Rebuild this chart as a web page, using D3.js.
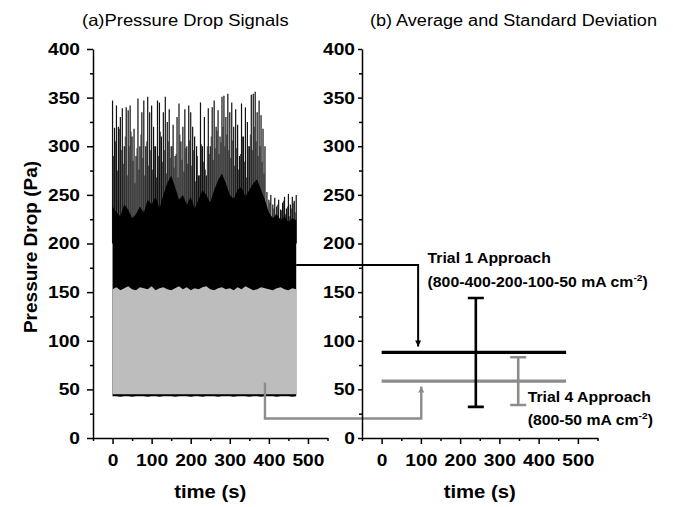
<!DOCTYPE html>
<html>
<head>
<meta charset="utf-8">
<script src="https://cdn.jsdelivr.net/npm/d3@7"></script>
<style>
  body { margin: 0; background: #fff; }
  text { font-family: "Liberation Sans", Arial, sans-serif; }
</style>
</head>
<body>
<svg id="chart" width="673" height="507"></svg>
<script>
// ---- data ----
// sample times (s) for the pressure drop traces
const peakTimes = d3.range(0, 471, 5);
const midTimes = d3.range(2.5, 470, 5);
const bandTimes = d3.range(0, 471, 10);

// Trial 1: spike tops (Pa), every 5 s
const trial1Peak = [
    347, 319, 342, 320, 330, 339, 300, 340, 337, 342,
    310, 318, 290, 349, 300, 335, 347, 300, 351, 335,
    342, 320, 300, 347, 345, 310, 335, 351, 325, 338,
    300, 322, 290, 330, 344, 305, 320, 338, 300, 342,
    335, 320, 310, 300, 270, 345, 300, 330, 270, 339,
    300, 340, 347, 320, 337, 310, 351, 352, 330, 354,
    335, 345, 320, 338, 322, 290, 344, 310, 340, 325,
    300, 353, 354, 356, 335, 347, 332, 318, 300, 253,
    245, 250, 240, 247, 238, 245, 235, 242, 248, 236,
    251, 240, 248, 244, 250
];
// Trial 1: smaller spikes in between
const trial1Mid = [
    290, 305, 275, 318, 296, 282, 310, 270, 300, 315,
    285, 262, 298, 276, 312, 288, 270, 305, 280, 296,
    276, 300, 268, 290, 315, 284, 296, 272, 305, 288,
    300, 278, 292, 268, 312, 286, 274, 298, 282, 306,
    280, 296, 264, 290, 270, 302, 284, 276, 300, 292,
    310, 286, 298, 316, 292, 304, 320, 300, 312, 296,
    288, 306, 280, 298, 276, 292, 310, 284, 268, 300,
    312, 296, 320, 305, 290, 300, 284, 272,
    238, 232, 242, 228, 236, 230, 240, 226, 234, 244,
    230, 238, 228, 236, 242, 232
];
// Trial 1: top of the dense black band, every 10 s
const trial1Dense = [
    238, 232, 228, 240, 235, 226, 230, 238, 232, 245,
    240, 248, 236, 250, 262, 270, 258, 245, 250, 240,
    248, 236, 245, 255, 250, 242, 255, 265, 272, 262,
    250, 246, 255, 258, 248, 255, 262, 266, 255, 245,
    232, 226, 230, 224, 228, 222, 226, 224
];
// Trial 1: signal minimum, every 10 s
const trial1Lower = [
    43, 43, 42.5, 43, 43, 42.5, 43, 43, 43, 42.5,
    43, 43, 42.5, 43, 43, 43, 42.5, 43, 43, 43,
    42.5, 43, 43, 42.5, 43, 43, 43, 42.5, 43, 43,
    43, 42.5, 43, 43, 43, 42.5, 43, 43, 42.5, 43,
    43, 43, 42.5, 43, 43, 43, 42.5, 43
];
// Trial 4: signal band, every 10 s
const trial4Upper = [
    153, 155, 152, 154, 156, 153, 152, 155, 154, 153,
    156, 152, 154, 155, 153, 152, 154, 156, 153, 155,
    152, 154, 153, 155, 156, 153, 152, 154, 155, 153,
    154, 152, 155, 153, 156, 154, 152, 153, 155, 154,
    153, 152, 154, 155, 153, 152, 154, 153
];
const trial4Lower = [
    45, 45, 45, 45, 45, 45, 45, 45, 45, 45,
    45, 45, 45, 45, 45, 45, 45, 45, 45, 45,
    45, 45, 45, 45, 45, 45, 45, 45, 45, 45,
    45, 45, 45, 45, 45, 45, 45, 45, 45, 45,
    45, 45, 45, 45, 45, 45, 45, 45
];

// (b) average and standard deviation
const trialNames = ['Trial 1', 'Trial 4'];
const meanValues = [88, 58.5];
const stdValues = [56, 24.5];
const barTimes = [240, 348];
const meanSpan = [0, 470];
const trialColors = ['#000000', '#8c8c8c'];

// axis ticks
const yMajor = d3.range(0, 401, 50);
const yMinor = d3.range(25, 400, 50);
const xMajor = [0, 100, 200, 300, 400, 500];
const xMinor = [-50, 50, 150, 250, 350, 450, 550];

// ---- layout ----
const sx = 1.13; // the source figure is slightly stretched horizontally
const svg = d3.select('#chart');

const y = d3.scaleLinear().domain([0, 400]).range([438, 49]);
const xA = d3.scaleLinear().domain([-50, 550]).range([93, 327.5]);
const xB = d3.scaleLinear().domain([-50, 550]).range([362, 597.5]);

function stretchedText(parent, x, yPos, str, size, weight, anchor) {
    return parent.append('text')
        .attr('transform', `translate(${x},${yPos}) scale(${sx},1)`)
        .attr('text-anchor', anchor || 'start')
        .attr('font-size', size)
        .attr('font-weight', weight || 'normal')
        .attr('fill', '#000')
        .text(str);
}

// ---- arrow markers ----
const defs = svg.append('defs');
trialColors.forEach((c, i) => {
    defs.append('marker')
        .attr('id', 'arrow' + i)
        .attr('viewBox', '0 0 10 10')
        .attr('refX', 10)
        .attr('refY', 5)
        .attr('markerUnits', 'userSpaceOnUse')
        .attr('markerWidth', 9)
        .attr('markerHeight', 6)
        .attr('orient', 'auto')
        .append('path')
        .attr('d', 'M0,0 L10,5 L0,10 Z')
        .attr('fill', c);
});

// ---- panel (a): signals ----
const gA = svg.append('g');

// trial 1 spikes
gA.selectAll('.mid')
    .data(midTimes)
    .join('line')
    .attr('x1', d => xA(d)).attr('x2', d => xA(d))
    .attr('y1', y(200))
    .attr('y2', (d, i) => y(trial1Mid[i]))
    .attr('stroke', '#4a4a4a')
    .attr('stroke-width', 1);

gA.selectAll('.peak')
    .data(peakTimes)
    .join('line')
    .attr('x1', d => xA(d)).attr('x2', d => xA(d))
    .attr('y1', y(200))
    .attr('y2', (d, i) => y(trial1Peak[i]))
    .attr('stroke', '#111')
    .attr('stroke-width', 1.2);

// trial 1 dense band
gA.append('path')
    .datum(bandTimes)
    .attr('fill', '#000')
    .attr('d', d3.area()
        .x(d => xA(d))
        .y0((d, i) => y(trial1Lower[i]))
        .y1((d, i) => y(trial1Dense[i])));

// trial 4 band on top
gA.append('path')
    .datum(bandTimes)
    .attr('fill', '#bdbdbd')
    .attr('d', d3.area()
        .x(d => xA(d))
        .y0((d, i) => y(trial4Lower[i]))
        .y1((d, i) => y(trial4Upper[i])));

// ---- panel (b): average and standard deviation ----
const gB = svg.append('g');

gB.selectAll('.mean')
    .data(meanValues)
    .join('line')
    .attr('x1', xB(meanSpan[0]))
    .attr('x2', xB(meanSpan[1]))
    .attr('y1', d => y(d))
    .attr('y2', d => y(d))
    .attr('stroke', (d, i) => trialColors[i])
    .attr('stroke-width', 3.2);

meanValues.forEach((m, i) => {
    const xc = xB(barTimes[i]);
    const lo = y(m - stdValues[i]);
    const hi = y(m + stdValues[i]);
    gB.append('path')
        .attr('d', `M${xc},${lo}V${hi}M${xc - 8},${lo}H${xc + 8}M${xc - 8},${hi}H${xc + 8}`)
        .attr('fill', 'none')
        .attr('stroke', trialColors[i])
        .attr('stroke-width', 2.6);
});

// connectors from the signals to their averages
svg.append('path')
    .attr('d', `M${xA(470)},${y(178)}H${xB(93)}V${y(94)}`)
    .attr('fill', 'none')
    .attr('stroke', trialColors[0])
    .attr('stroke-width', 2)
    .attr('marker-end', 'url(#arrow0)');

svg.append('path')
    .attr('d', `M${xA(390)},${y(57)}V${y(20)}H${xB(101)}V${y(53)}`)
    .attr('fill', 'none')
    .attr('stroke', trialColors[1])
    .attr('stroke-width', 2.4)
    .attr('marker-end', 'url(#arrow1)');

// annotation texts
function approachLabel(x, yTop, yBottom, name, currents) {
    stretchedText(svg, x, yTop, name + ' Approach', 14, 'bold');
    const t = stretchedText(svg, x, yBottom, '(' + currents + ' mA cm', 14, 'bold');
    t.append('tspan').attr('font-size', 9).attr('dy', -6).text('-2');
    t.append('tspan').attr('dy', 6).text(')');
}
approachLabel(xB(117), y(180), y(155), trialNames[0], '800-400-200-100-50');
approachLabel(xB(372), y(37), y(13), trialNames[1], '800-50');

// ---- axes ----
function drawAxes(x, tickLen, pad) {
    const yAx = svg.append('g')
        .attr('transform', `translate(${x.range()[0]},0)`)
        .call(d3.axisLeft(y).tickValues(yMajor).tickSize(tickLen).tickSizeOuter(0)
            .tickPadding(pad).tickFormat(d3.format('d')));
    svg.append('g')
        .attr('transform', `translate(${x.range()[0]},0)`)
        .call(d3.axisLeft(y).tickValues(yMinor).tickSize(3).tickSizeOuter(0).tickFormat(''))
        .select('.domain').remove();

    const xAx = svg.append('g')
        .attr('transform', `translate(0,${y(0)})`)
        .call(d3.axisBottom(x).tickValues(xMajor).tickSize(6).tickSizeOuter(0)
            .tickPadding(10).tickFormat(d3.format('d')));
    svg.append('g')
        .attr('transform', `translate(0,${y(0)})`)
        .call(d3.axisBottom(x).tickValues(xMinor).tickSize(3).tickSizeOuter(0).tickFormat(''))
        .select('.domain').remove();

    [yAx, xAx].forEach(ax => {
        ax.selectAll('text')
            .attr('font-family', '"Liberation Sans", Arial, sans-serif')
            .attr('font-size', 17)
            .attr('font-weight', 'bold')
            .attr('fill', '#000');
    });
    yAx.selectAll('text')
        .attr('x', -(tickLen + pad) / sx)
        .attr('transform', `scale(${sx},1)`);
    xAx.selectAll('text').attr('transform', `scale(${sx},1)`);

    svg.selectAll('.domain, .tick line')
        .attr('stroke', '#000')
        .attr('stroke-width', 1.5);

    stretchedText(svg, (x.range()[0] + x.range()[1]) / 2, 498, 'time (s)', 18, 'bold', 'middle');
}
drawAxes(xA, 6, 7);
drawAxes(xB, 4, 3);

// titles
stretchedText(svg, 82, 26, '(a)Pressure Drop Signals', 16.3);
stretchedText(svg, 370, 26, '(b) Average and Standard Deviation', 16);

svg.append('text')
    .attr('transform', 'translate(37,247) rotate(-90)')
    .attr('text-anchor', 'middle')
    .attr('font-size', 19)
    .attr('font-weight', 'bold')
    .text('Pressure Drop (Pa)');
</script>
</body>
</html>
